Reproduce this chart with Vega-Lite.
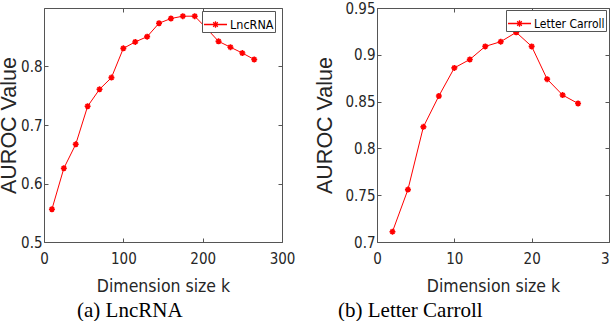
{
  "$schema": "https://vega.github.io/schema/vega-lite/v6.json",
  "padding": {"left": -2, "top": 0, "right": 0, "bottom": 0},
  "background": "white",
  "spacing": 95,
  "bounds": "flush",
  "config": {
    "view": {"stroke": "#555", "strokeWidth": 1},
    "axis": {
      "domain": false, "grid": false, "tickColor": "#555", "tickSize": -4, "tickWidth": 1,
      "labelFont": "DejaVu Sans Condensed", "labelFontSize": 15, "labelColor": "#262626",
      "labelFlush": false, "labelOverlap": false, "labelBound": false,
      "titleFontWeight": "normal", "titleColor": "#262626"
    },
    "axisX": {"titleFont": "DejaVu Sans Condensed", "titleFontSize": 17.5, "labelPadding": 13, "titlePadding": 11},
    "axisY": {"titleFont": "Liberation Sans", "titleFontSize": 21.5, "labelPadding": 6},
    "title": {"font": "Liberation Serif", "fontSize": 21, "fontWeight": "normal", "color": "#000"}
  },
  "resolve": {"scale": {"color": "independent"}, "legend": {"color": "independent"}},
  "hconcat": [
    {
      "width": 238, "height": 234,
      "title": {"text": "(a) LncRNA", "orient": "bottom", "anchor": "start", "frame": "group", "dx": 33, "offset": 5},
      "data": {"values": [
        {"k": 10, "auroc": 0.556, "series": "LncRNA"},
        {"k": 25, "auroc": 0.626, "series": "LncRNA"},
        {"k": 40, "auroc": 0.667, "series": "LncRNA"},
        {"k": 55, "auroc": 0.732, "series": "LncRNA"},
        {"k": 70, "auroc": 0.761, "series": "LncRNA"},
        {"k": 85, "auroc": 0.781, "series": "LncRNA"},
        {"k": 100, "auroc": 0.831, "series": "LncRNA"},
        {"k": 115, "auroc": 0.842, "series": "LncRNA"},
        {"k": 130, "auroc": 0.851, "series": "LncRNA"},
        {"k": 145, "auroc": 0.874, "series": "LncRNA"},
        {"k": 160, "auroc": 0.882, "series": "LncRNA"},
        {"k": 175, "auroc": 0.886, "series": "LncRNA"},
        {"k": 190, "auroc": 0.886, "series": "LncRNA"},
        {"k": 205, "auroc": 0.865, "series": "LncRNA"},
        {"k": 220, "auroc": 0.843, "series": "LncRNA"},
        {"k": 235, "auroc": 0.833, "series": "LncRNA"},
        {"k": 250, "auroc": 0.823, "series": "LncRNA"},
        {"k": 265, "auroc": 0.812, "series": "LncRNA"}
      ]},
      "layer": [
        {
          "mark": {"type": "line", "strokeWidth": 1},
          "encoding": {
            "x": {"field": "k", "type": "quantitative", "scale": {"domain": [0, 300], "nice": false},
                  "axis": {"orient": "bottom", "values": [0, 100, 200, 300], "title": "Dimension  size k"}},
            "y": {"field": "auroc", "type": "quantitative", "scale": {"domain": [0.5, 0.9], "nice": false, "zero": false},
                  "axis": {"orient": "left", "values": [0.5, 0.6, 0.7, 0.8], "format": ".1f", "title": "AUROC Value", "titlePadding": 0}},
            "color": {"field": "series", "type": "nominal", "scale": {"range": ["#ff0000"]},
                      "legend": {"title": null, "orient": "none", "legendX": 158, "legendY": 3, "fillColor": "white", "strokeColor": "#555", "padding": 1,
                                 "symbolType": "M-1,0H1M-0.28,0H0.28M0,-0.28V0.28M-0.2,-0.2L0.2,0.2M-0.2,0.2L0.2,-0.2",
                                 "symbolSize": 529, "symbolStrokeWidth": 1.3, "labelOffset": 2,
                                 "labelFont": "DejaVu Sans Condensed", "labelFontSize": 12.5, "labelColor": "#000"}}
          }
        },
        {
          "mark": {"type": "point", "shape": "M-1,0H1M0,-1V1M-0.7,-0.7L0.7,0.7M-0.7,0.7L0.7,-0.7", "filled": false, "stroke": "#ff0000", "size": 36, "strokeWidth": 1.6, "opacity": 1},
          "encoding": {
            "x": {"field": "k", "type": "quantitative", "axis": {"orient": "top", "values": [0, 100, 200, 300], "labels": false, "title": null}},
            "y": {"field": "auroc", "type": "quantitative", "axis": {"orient": "right", "values": [0.5, 0.6, 0.7, 0.8], "labels": false, "title": null}}
          }
        }
      ],
      "resolve": {"axis": {"x": "independent", "y": "independent"}}
    },
    {
      "width": 232, "height": 234,
      "title": {"text": "(b) Letter Carroll", "orient": "bottom", "anchor": "start", "frame": "group", "dx": -39, "offset": 5},
      "data": {"values": [
        {"k": 2, "auroc": 0.711, "series": "Letter Carroll"},
        {"k": 4, "auroc": 0.756, "series": "Letter Carroll"},
        {"k": 6, "auroc": 0.823, "series": "Letter Carroll"},
        {"k": 8, "auroc": 0.856, "series": "Letter Carroll"},
        {"k": 10, "auroc": 0.886, "series": "Letter Carroll"},
        {"k": 12, "auroc": 0.895, "series": "Letter Carroll"},
        {"k": 14, "auroc": 0.909, "series": "Letter Carroll"},
        {"k": 16, "auroc": 0.914, "series": "Letter Carroll"},
        {"k": 18, "auroc": 0.924, "series": "Letter Carroll"},
        {"k": 20, "auroc": 0.909, "series": "Letter Carroll"},
        {"k": 22, "auroc": 0.874, "series": "Letter Carroll"},
        {"k": 24, "auroc": 0.857, "series": "Letter Carroll"},
        {"k": 26, "auroc": 0.848, "series": "Letter Carroll"}
      ]},
      "layer": [
        {
          "mark": {"type": "line", "strokeWidth": 1},
          "encoding": {
            "x": {"field": "k", "type": "quantitative", "scale": {"domain": [0, 30], "nice": false},
                  "axis": {"orient": "bottom", "values": [0, 10, 20, 30], "title": "Dimension  size k"}},
            "y": {"field": "auroc", "type": "quantitative", "scale": {"domain": [0.7, 0.95], "nice": false, "zero": false},
                  "axis": {"orient": "left", "values": [0.7, 0.75, 0.8, 0.85, 0.9, 0.95], "format": ".2~f", "title": "AUROC Value", "titlePadding": 8}},
            "color": {"field": "series", "type": "nominal", "scale": {"range": ["#ff0000"]},
                      "legend": {"title": null, "orient": "none", "legendX": 129, "legendY": 2, "fillColor": "white", "strokeColor": "#555", "padding": 1,
                                 "symbolType": "M-1,0H1M-0.28,0H0.28M0,-0.28V0.28M-0.2,-0.2L0.2,0.2M-0.2,0.2L0.2,-0.2",
                                 "symbolSize": 529, "symbolStrokeWidth": 1.3, "labelOffset": 2,
                                 "labelFont": "DejaVu Sans Condensed", "labelFontSize": 12, "labelColor": "#000"}}
          }
        },
        {
          "mark": {"type": "point", "shape": "M-1,0H1M0,-1V1M-0.7,-0.7L0.7,0.7M-0.7,0.7L0.7,-0.7", "filled": false, "stroke": "#ff0000", "size": 36, "strokeWidth": 1.6, "opacity": 1},
          "encoding": {
            "x": {"field": "k", "type": "quantitative", "axis": {"orient": "top", "values": [0, 10, 20, 30], "labels": false, "title": null}},
            "y": {"field": "auroc", "type": "quantitative", "axis": {"orient": "right", "values": [0.7, 0.75, 0.8, 0.85, 0.9, 0.95], "labels": false, "title": null}}
          }
        }
      ],
      "resolve": {"axis": {"x": "independent", "y": "independent"}}
    }
  ]
}
